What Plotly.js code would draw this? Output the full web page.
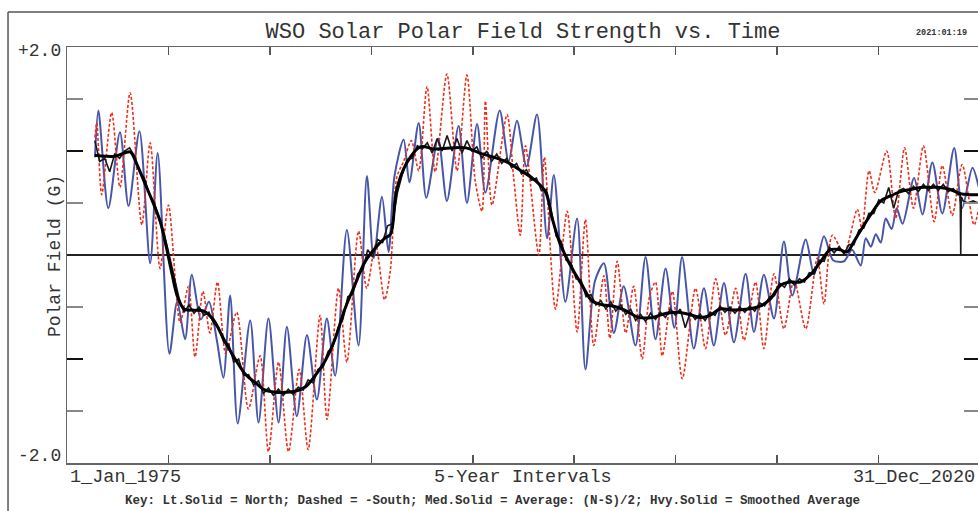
<!DOCTYPE html>
<html><head><meta charset="utf-8">
<script src="https://cdn.plot.ly/plotly-3.0.1.min.js"></script>
<style>html,body{margin:0;padding:0;overflow:hidden;background:#fff}#chart{width:980px;height:511px}</style>
</head><body><div id="chart"></div>
<script>
// ---- data (decimal years, field in G) ----
const northYears = [1976.41,1976.58,1977.08,1977.67,1978.10,1978.65,1979.19,1979.57,1980.16,1980.55,1980.95,1981.29,1981.75,1982.15,1982.55,1982.88,1983.22,1983.60,
1984.23,1984.65,1985.15,1985.66,1986.08,1986.58,1987.09,1987.59,1988.09,1988.51,1989.10,1989.69,1990.11,1990.45,1990.87,1991.20,1991.50,1991.96,1992.25,1992.72,
1993.10,1993.70,1994.14,1994.73,1995.15,1995.66,1996.08,1996.80,1997.25,1997.67,1998.15,1998.68,1999.19,1999.53,2000.11,2000.70,2001.12,2001.60,2002.05,2002.55,
2003.05,2003.64,2004.15,2004.65,2005.16,2005.60,2005.99,2006.58,2007.09,2007.59,2008.10,2008.60,2009.19,2009.61,2010.11,2010.62,2011.12,2011.54,2012.22,2012.64,
2013.14,2013.60,2014.15,2014.55,2014.99,2015.24,2015.50,2015.75,2016.00,2016.25,2016.55,2016.80,2017.10,2017.68,2018.10,2018.60,2019.10,2019.70,2020.10,2020.62,2020.94];
const northValues = [0.94,1.39,0.45,1.18,0.47,1.19,-0.08,0.98,-0.95,-0.45,-0.81,-0.19,-0.62,-0.45,-0.82,-1.18,-0.39,-1.62,
-0.63,-1.61,-0.61,-1.61,-0.69,-1.55,-0.77,-1.39,-0.61,-1.16,0.24,-0.87,0.76,-0.03,0.56,0.03,0.76,1.11,0.70,1.27,
0.55,1.12,0.52,1.24,0.50,1.26,0.60,1.39,0.90,1.29,0.85,1.35,0.16,0.77,-0.45,0.35,-1.10,-0.25,-0.08,-0.75,
-0.30,-0.87,-0.02,-0.81,-0.13,-0.70,-0.02,-0.90,-0.32,-0.87,-0.27,-0.84,-0.18,-0.74,-0.19,-0.61,0.13,-0.39,0.15,-0.19,
0.18,-0.05,-0.06,0.05,-0.10,0.16,0.08,0.20,0.12,0.35,0.25,0.45,0.30,0.74,0.39,0.89,0.40,1.03,0.45,0.84,0.65];

const southYears = [1976.41,1976.50,1976.75,1977.25,1977.67,1978.18,1978.77,1979.19,1979.69,1980.11,1980.70,1981.12,1981.45,1981.85,1982.20,1982.58,1983.00,1983.55,
1984.14,1984.73,1985.15,1985.66,1986.16,1986.70,1987.15,1987.75,1988.10,1988.68,1989.10,1989.69,1990.10,1990.55,1991.00,1991.29,1991.62,1991.96,1992.35,1992.72,
1993.14,1993.55,1994.14,1994.65,1995.15,1995.57,1995.91,1996.08,1996.41,1997.17,1997.50,1997.84,1998.10,1998.77,1999.05,1999.61,2000.20,2000.70,2001.12,2001.54,
2002.05,2002.35,2002.72,2003.15,2003.55,2003.98,2004.35,2004.65,2004.99,2005.50,2006.00,2006.67,2007.17,2007.68,2008.18,2008.69,2009.11,2009.69,2010.11,2010.62,
2011.12,2011.63,2012.22,2012.80,2013.14,2013.56,2014.15,2014.82,2015.05,2015.41,2015.70,2016.30,2016.75,2017.20,2017.65,2018.15,2018.69,2019.10,2019.60,2020.10,2020.70,2020.94];
const southValues = [1.13,1.27,0.58,1.37,0.65,1.56,0.29,1.08,-0.13,0.48,-0.65,-0.30,-0.98,-0.35,-0.75,-0.26,-0.95,-0.55,
-1.48,-0.97,-1.89,-1.03,-1.89,-1.10,-1.87,-0.58,-1.58,-0.32,-1.03,0.23,-0.32,0.10,-0.43,-0.15,0.75,0.90,1.10,0.81,
1.62,0.80,1.74,0.81,1.73,0.71,0.42,1.48,0.48,1.35,0.75,0.19,1.05,0.00,0.94,-0.52,0.42,-0.74,0.34,-0.87,
-0.20,-0.80,-0.06,-0.75,-0.30,-1.00,-0.40,-0.26,-0.97,-0.35,-1.19,-0.32,-0.90,-0.23,-0.77,-0.32,-0.82,-0.26,-0.90,-0.18,
-0.71,-0.24,-0.71,-0.03,-0.47,0.19,0.02,0.44,0.25,0.81,0.60,1.00,0.35,1.03,0.45,1.05,0.32,0.86,0.38,0.87,0.29,0.45];

const avgYears = [1976.40,1976.65,1976.90,
1977.15,1977.40,1977.65,1977.90, 1978.15,1978.40,1978.65,1978.90, 1979.15,1979.40,1979.65,1979.90, 1980.15,1980.40,1980.65,1980.90,
1981.15,1981.40,1981.65,1981.90, 1982.15,1982.40,1982.65,1982.90, 1983.15,1983.40,1983.65,1983.90, 1984.15,1984.40,1984.65,1984.90,
1985.15,1985.40,1985.65,1985.90, 1986.15,1986.40,1986.65,1986.90, 1987.15,1987.40,1987.65,1987.90, 1988.15,1988.40,1988.65,1988.90,
1989.15,1989.40,1989.65,1989.90, 1990.15,1990.40,1990.65,1990.90, 1991.15,1991.40,1991.65,1991.90, 1992.15,1992.40,1992.65,1992.90,
1993.15,1993.40,1993.65,1993.90, 1994.15,1994.40,1994.65,1994.90, 1995.15,1995.40,1995.65,1995.90, 1996.15,1996.40,1996.65,1996.90,
1997.15,1997.40,1997.65,1997.90, 1998.15,1998.40,1998.65,1998.90, 1999.15,1999.40,1999.65,1999.90, 2000.15,2000.40,2000.65,2000.90,
2001.15,2001.40,2001.65,2001.90, 2002.15,2002.40,2002.65,2002.90, 2003.15,2003.40,2003.65,2003.90, 2004.15,2004.40,2004.65,2004.90,
2005.15,2005.40,2005.65,2005.90, 2006.15,2006.40,2006.65,2006.90, 2007.15,2007.40,2007.65,2007.90, 2008.15,2008.40,2008.65,2008.90,
2009.15,2009.40,2009.65,2009.90, 2010.15,2010.40,2010.65,2010.90, 2011.15,2011.40,2011.65,2011.90, 2012.15,2012.40,2012.65,2012.90,
2013.15,2013.40,2013.65,2013.90, 2014.15,2014.40,2014.65,2014.90, 2015.15,2015.40,2015.65,2015.90, 2016.15,2016.40,2016.65,2016.90,
2017.15,2017.40,2017.65,2017.90, 2018.15,2018.40,2018.65,2018.90, 2019.15,2019.40,2019.65,2019.90,
2020.00,2020.03,2020.06,2020.15,2020.40,2020.65,2020.90];
const avgValues = [1.10,0.90,0.93,
0.80,0.97,0.93,1.00, 1.03,0.95,0.80,0.74, 0.58,0.50,0.36,0.20, 0.00,-0.22,-0.42,-0.55,
-0.48,-0.56,-0.50,-0.58, -0.55,-0.66,-0.70,-0.84, -0.86,-1.03,-1.00,-1.16, -1.15,-1.25,-1.21,-1.33,
-1.28,-1.35,-1.29,-1.35, -1.29,-1.34,-1.27,-1.30, -1.20,-1.23,-1.10,-1.08, -0.93,-0.88,-0.70,-0.62,
-0.40,-0.38,-0.18,-0.15, 0.05,-0.02,0.15,0.12, 0.28,0.30,0.60,0.78, 0.92,0.93,1.05,1.02,
1.08,0.98,1.12,1.00, 1.15,1.00,1.12,0.98, 1.10,1.00,1.04,0.93, 1.00,0.90,0.97,0.88,
0.93,0.84,0.88,0.78, 0.82,0.72,0.74,0.62, 0.63,0.42,0.18,0.13, -0.05,-0.08,-0.23,-0.24,
-0.40,-0.38,-0.48,-0.44, -0.52,-0.45,-0.54,-0.48, -0.57,-0.52,-0.63,-0.57, -0.64,-0.56,-0.62,-0.55,
-0.60,-0.52,-0.58,-0.52, -0.70,-0.55,-0.62,-0.57, -0.63,-0.55,-0.58,-0.49, -0.55,-0.50,-0.56,-0.50,
-0.55,-0.49,-0.54,-0.46, -0.49,-0.40,-0.39,-0.27, -0.31,-0.23,-0.29,-0.23, -0.26,-0.17,-0.18,-0.05,
-0.06,0.08,0.02,0.08, 0.01,0.10,0.10,0.24, 0.26,0.40,0.40,0.53, 0.50,0.65,0.45,0.62,
0.64,0.59,0.66,0.61, 0.68,0.62,0.68,0.62, 0.68,0.61,0.64,0.58,
0.60,0.00,0.56,0.52,0.50,0.52,0.50];

const smoothYears = [1976.4,1976.9,1977.4,1977.9,1978.2,1978.5,1978.9,1979.3,1979.7,1980.0,1980.3,1980.55,1980.9,1981.4,1981.9,1982.4,1982.9,1983.5,
1984.0,1984.5,1985.0,1985.5,1986.0,1986.5,1987.0,1987.5,1988.0,1988.5,1989.0,1989.5,1990.0,1990.5,1991.0,1991.3,1991.6,1992.1,1992.8,1993.5,
1994.3,1995.1,1995.8,1996.5,1997.2,1997.8,1998.5,1999.1,1999.45,1999.8,2000.1,2000.45,2000.95,2001.45,2002.0,2002.5,2003.1,2003.8,2004.5,2005.2,
2005.8,2006.5,2006.9,2007.4,2007.9,2008.6,2009.3,2009.95,2010.45,2010.95,2011.45,2011.95,2012.45,2012.95,2013.45,2013.95,2014.3,2014.65,2015.0,2015.5,
2016.0,2016.5,2017.0,2017.5,2018.0,2018.5,2019.0,2019.5,2020.0,2020.5,2020.94];
const smoothValues = [0.96,0.95,0.95,0.98,0.99,0.88,0.70,0.52,0.32,0.08,-0.19,-0.39,-0.52,-0.53,-0.54,-0.63,-0.81,-1.01,
-1.15,-1.23,-1.30,-1.32,-1.32,-1.31,-1.27,-1.16,-1.02,-0.81,-0.52,-0.29,-0.07,0.06,0.16,0.20,0.62,0.88,1.04,1.02,
1.03,1.03,0.98,0.94,0.89,0.82,0.73,0.61,0.35,0.13,0.00,-0.13,-0.29,-0.44,-0.48,-0.49,-0.53,-0.60,-0.60,-0.56,
-0.55,-0.58,-0.60,-0.58,-0.52,-0.53,-0.52,-0.49,-0.42,-0.29,-0.26,-0.26,-0.19,-0.07,0.05,0.05,0.03,0.13,0.24,0.39,
0.52,0.57,0.61,0.63,0.65,0.65,0.65,0.63,0.59,0.58,0.58];

const xLabels = ['1_Jan_1975', '5-Year Intervals', '31_Dec_2020'];
const yLabels = ['+2.0', '-2.0'];
const titleText = 'WSO Solar Polar Field Strength vs. Time';
const keyText = 'Key: Lt.Solid = North; Dashed = -South; Med.Solid = Average: (N-S)/2; Hvy.Solid = Smoothed Average';

// ---- drawing ----
const MONO = '"Liberation Mono", "Courier New", "DejaVu Sans Mono", monospace';
const X0 = 1975, X1 = 2021;
const xTicks = [1,2,3,4,5,6,7,8].map(k => X0 + k * (X1 - X0) / 9);

const traces = [
  {x: northYears, y: northValues, type: 'scatter', mode: 'lines', name: 'North',
   line: {color: 'rgb(72,86,170)', width: 2, shape: 'spline', smoothing: 0.8}},
  {x: southYears, y: southValues, type: 'scatter', mode: 'lines', name: '-South',
   line: {color: 'rgb(240,45,25)', width: 1.6, dash: '3px,2px', shape: 'spline', smoothing: 0.8}},
  {x: avgYears, y: avgValues, type: 'scatter', mode: 'lines', name: 'Average',
   line: {color: 'rgb(25,25,25)', width: 1.6}},
  {x: smoothYears, y: smoothValues, type: 'scatter', mode: 'lines', name: 'Smoothed',
   line: {color: '#000', width: 3, shape: 'spline', smoothing: 1}}
];

const txt = (text, x, y, xa, size, extra) => Object.assign({
  text: text, x: x, y: y, xref: 'paper', yref: 'paper', xanchor: xa, yanchor: 'middle',
  showarrow: false, font: {family: MONO, size: size, color: '#333'}
}, extra || {});

const layout = {
  width: 980, height: 511,
  margin: {l: 67, r: 0, t: 47, b: 48},
  paper_bgcolor: '#fff', plot_bgcolor: '#fff',
  showlegend: false,
  title: {text: titleText, font: {family: MONO, size: 22, color: '#333'},
          xref: 'paper', x: 0.4995, xanchor: 'center', yref: 'container', y: 1 - 30/511, yanchor: 'middle'},
  xaxis: {range: [X0, X1], showgrid: false, zeroline: false, showline: true, linecolor: '#666', linewidth: 1.5,
          mirror: 'ticks', ticks: 'inside', ticklen: 8, tickwidth: 1.5, tickcolor: '#555',
          tickmode: 'array', tickvals: xTicks, showticklabels: false},
  yaxis: {range: [-2, 2], showgrid: false, zeroline: true, zerolinecolor: '#222', zerolinewidth: 1.2,
          showline: true, linecolor: '#666', linewidth: 1.5, mirror: 'ticks',
          ticks: 'inside', ticklen: 16, tickwidth: 1.5, tickcolor: '#111',
          tickmode: 'array', tickvals: [-1, 1], showticklabels: false,
          minor: {tickmode: 'array', tickvals: [-1.5, -0.5, 0.5, 1.5], ticks: 'inside', ticklen: 16, tickwidth: 1.5, tickcolor: '#888'}},
  annotations: [
    txt(yLabels[0], -0.0044, 0.990, 'right', 18),
    txt(yLabels[1], -0.0044, 0.0168, 'right', 18),
    txt('Polar Field (G)', -0.0131, 0.4976, 'center', 18, {textangle: -90}),
    txt(xLabels[0], 0.0011, -0.036, 'left', 18.5),
    txt(xLabels[1], 0.4995, -0.036, 'center', 18.5),
    txt(xLabels[2], 0.9967, -0.036, 'right', 18.5),
    txt('<b>' + keyText + '</b>', 0.4655, -0.0913, 'center', 12.5),
    txt('<b>2021:01:19</b>', 0.958, 1.0337, 'center', 8.5)
  ],
  shapes: [
    {type: 'line', xref: 'paper', yref: 'paper', x0: -0.0646, x1: 1.01, y0: 1.0841, y1: 1.0841, line: {color: '#555', width: 1.5}},
    {type: 'line', xref: 'paper', yref: 'paper', x0: -0.0646, x1: -0.0646, y0: 1.0841, y1: -0.13, line: {color: '#555', width: 1.5}}
  ]
};

Plotly.newPlot('chart', traces, layout, {staticPlot: true, displayModeBar: false});
</script></body></html>
